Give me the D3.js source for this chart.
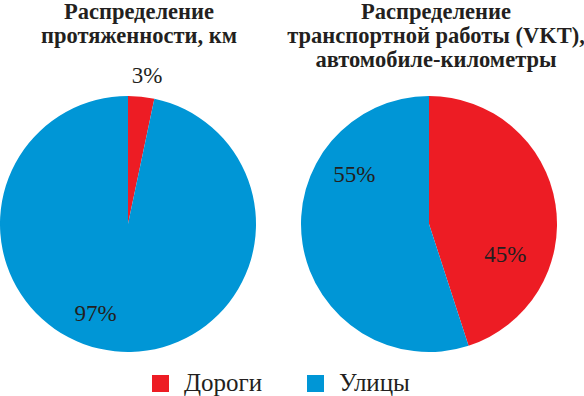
<!DOCTYPE html>
<html>
<head>
<meta charset="utf-8">
<script src="https://cdn.jsdelivr.net/npm/d3@7/dist/d3.min.js"></script>
</head>
<body style="margin:0">
<svg id="chart" width="584" height="396" style="display:block"></svg>
<script>
// ---- data ----
const categories = ["Дороги", "Улицы"];
const lengthValues = [3.3, 96.7];      // Распределение протяженности, км
const vktValues = [45, 55];            // Распределение транспортной работы (VKT)
const lengthLabels = ["3%", "97%"];
const vktLabels = ["45%", "55%"];
const leftTitle = ["Распределение", "протяженности, км"];
const rightTitle = ["Распределение", "транспортной работы (VKT),", "автомобиле-километры"];

// ---- layout ----
const colors = d3.scaleOrdinal().domain(categories).range(["#ed1c24", "#0096d6"]);
const svg = d3.select("#chart");
const R = 128;
const SERIF = '"Liberation Serif", serif';
const textColor = "#231f20";

function serifText(sel, size, weight) {
  return sel
    .style("font-family", SERIF, "important")
    .style("font-size", size + "px", "important")
    .style("font-weight", weight, "important")
    .style("fill", textColor);
}

function drawPie(cx, cy, values, labels, labelPolar, titleLines, titleX) {
  const g = svg.append("g").attr("transform", `translate(${cx},${cy})`);
  const pie = d3.pie().sort(null).value(d => d.v);
  const arcs = pie(values.map((v, i) => ({ v, c: categories[i], l: labels[i] })));
  const arc = d3.arc().innerRadius(0).outerRadius(R);
  g.selectAll("path").data(arcs).enter().append("path")
    .attr("d", arc)
    .attr("fill", d => colors(d.data.c));
  serifText(g.selectAll("text.lbl").data(arcs).enter().append("text")
    .attr("class", "lbl")
    .attr("x", (d, i) => Math.sin(labelPolar[i][0] * Math.PI / 180) * labelPolar[i][1])
    .attr("y", (d, i) => -Math.cos(labelPolar[i][0] * Math.PI / 180) * labelPolar[i][1])
    .attr("text-anchor", "middle")
    .attr("dy", "0.35em"), 23, "normal")
    .text(d => d.data.l);
  const t = serifText(svg.append("text").attr("text-anchor", "middle"), 22.5, "bold");
  titleLines.forEach((line, i) => {
    serifText(t.append("tspan").attr("x", titleX).attr("y", 19 + i * 24), 22.5, "bold").text(line);
  });
}

// label polar positions [angle deg clockwise from top, radius]
drawPie(128, 224, lengthValues, lengthLabels, [[7.3, 150], [200, 95]], leftTitle, 139);
drawPie(429, 224, vktValues, vktLabels, [[111.5, 82], [304, 90]], rightTitle, 436);

// legend
const legend = svg.append("g");
const legendX = [152, 307];
categories.forEach((c, i) => {
  legend.append("rect")
    .attr("x", legendX[i]).attr("y", 375)
    .attr("width", 17).attr("height", 17)
    .attr("fill", colors(c));
  serifText(legend.append("text")
    .attr("x", legendX[i] + 32).attr("y", 391), 25, "normal")
    .text(c);
});
</script>
</body>
</html>
